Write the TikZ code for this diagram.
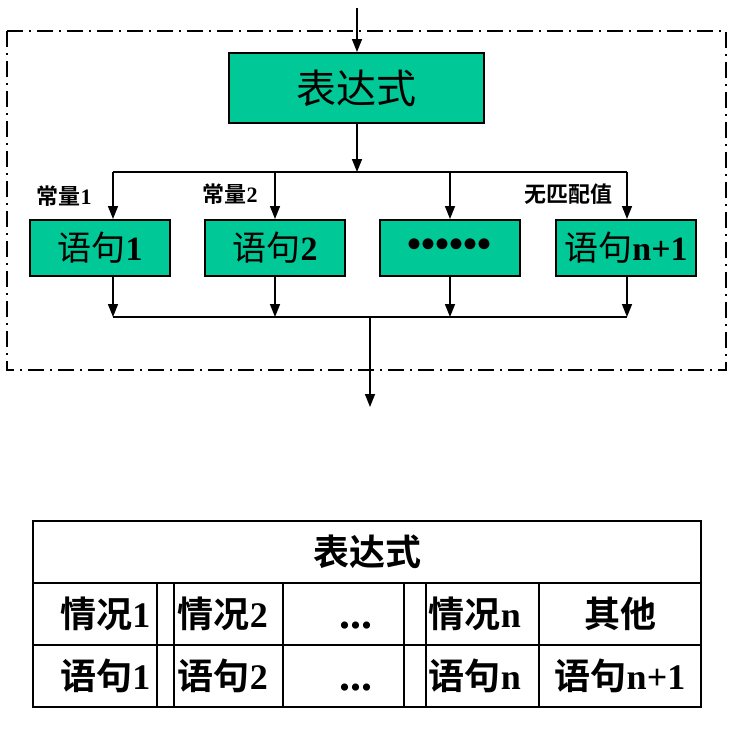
\documentclass[tikz,border=0pt]{standalone}
\usepackage{fontspec}
\setmainfont{Liberation Serif}
\newfontfamily\cjk{Noto Sans CJK SC}[BoldFont={Noto Sans CJK SC Bold}]
\usetikzlibrary{arrows.meta}
\definecolor{boxgreen}{RGB}{0,200,150}
\newcommand\zh[1]{{\cjk #1}}
\newcommand\fs[1]{\fontsize{#1}{#1}\selectfont}

\begin{document}
\begin{tikzpicture}[x=1pt,y=-1pt,line width=1.5pt,
    >={Triangle[length=13pt,width=10pt]},
    stmt/.style={draw,line width=2pt,fill=boxgreen,minimum width=140pt,
      minimum height=56pt,inner sep=0pt,font=\fs{34}},
    lbl/.style={inner sep=0pt,font=\fs{22}\bfseries},
    cell/.style={inner sep=0pt,font=\fs{36}\bfseries},
    dots/.style={inner sep=0pt,font=\fs{44}\bfseries}]

        \useasboundingbox (0,0) rectangle (739,739);

        % dash-dot frame
        \draw[dash pattern=on 16pt off 6pt on 2pt off 6pt] (7,31) rectangle (726,370);

        \node[stmt,minimum width=255pt,minimum height=70pt,font=\fs{40}] (expr) at (356.5,88) {\zh{表达式}};

        \node[stmt] (s1)    at (100,248) {\zh{语句}\textbf{1}};
        \node[stmt] (s2)    at (275,248) {\zh{语句}\textbf{2}};
        \node[stmt,font=\fs{40}] (sdots) at (450,248) {\textbf{••••••}};
        \node[stmt] (sn1)   at (626,248) {\zh{语句}\textbf{n+1}};

        \node[lbl] (c1) at (64,196)  {\zh{常量}1};
        \node[lbl] (c2) at (230,194) {\zh{常量}2};
        \node[lbl] (c3) at (568,194) {\zh{无匹配值}};

        \coordinate (in)   at (357,8);
        \coordinate (out)  at (370,407);
        \coordinate (join) at (370,317);

        \coordinate (t1) at (113,172);
        \coordinate (t2) at (275,172);
        \coordinate (t3) at (450,172);
        \coordinate (t4) at (627,172);

        \coordinate (b1) at (113,317);
        \coordinate (b2) at (275,317);
        \coordinate (b3) at (450,317);
        \coordinate (b4) at (627,317);

        \draw[->] (in) -- (in |- expr.north);
        \draw[->] (expr.south -| in) -- (in |- t1);
        \draw (t1) -- (t4);
        \draw[->] (t1) -- (t1 |- s1.north);
        \draw[->] (t2) -- (t2 |- s2.north);
        \draw[->] (t3) -- (t3 |- sdots.north);
        \draw[->] (t4) -- (t4 |- sn1.north);

        \draw[->] (s1.south -| b1)    -- (b1);
        \draw[->] (s2.south -| b2)    -- (b2);
        \draw[->] (sdots.south -| b3) -- (b3);
        \draw[->] (sn1.south -| b4)   -- (b4);
        \draw (b1) -- (b4);
        \draw[->] (join) -- (out);

        % table
        \begin{scope}[line width=2.5pt]
          \draw (33,521) rectangle (701,707);
          \draw (33,583) -- (701,583);
          \draw (33,645) -- (701,645);
          \foreach \x in {157,283,539}
            \draw (\x,583) -- (\x,707);
        \end{scope}
        \begin{scope}[line width=1.5pt]
          \foreach \x in {174,404,426}
            \draw (\x,583) -- (\x,707);
        \end{scope}

        \node[cell] (head) at (367,552) {\zh{表达式}};

        \node[cell,anchor=east] (k1) at (151,614) {\zh{情况}1};
        \node[cell,anchor=west] (k2) at (177,614) {\zh{情况}2};
        \node[dots,anchor=base] (kd) at (356,628) {...};
        \node[cell,anchor=west] (kn) at (428,614) {\zh{情况}n};
        \node[cell]             (ko) at (620,614) {\zh{其他}};

        \node[cell,anchor=east] (r1) at (151,676) {\zh{语句}1};
        \node[cell,anchor=west] (r2) at (177,676) {\zh{语句}2};
        \node[dots,anchor=base] (rd) at (356,690) {...};
        \node[cell,anchor=west] (rn) at (428,676) {\zh{语句}n};
        \node[cell]             (ro) at (620,676) {\zh{语句}n+1};

      \end{tikzpicture}
\end{document}
